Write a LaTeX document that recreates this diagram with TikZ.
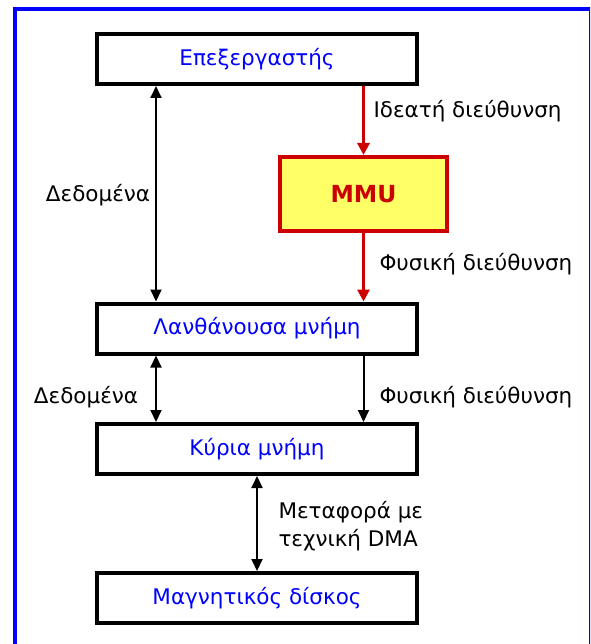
\documentclass[tikz,border=0pt]{standalone}
\usepackage{fontspec}
\setmainfont{DejaVu Sans}
\usetikzlibrary{arrows.meta,positioning}
\definecolor{unitblue}{HTML}{0000FF}
\definecolor{mmured}{HTML}{CC0000}
\definecolor{mmuyellow}{HTML}{FFFF66}

\begin{document}
\begin{tikzpicture}[x=1pt, y=-1pt, font=\fontsize{21.5}{28}\selectfont,
  >={Triangle[length=12pt,width=11pt]},
  unit/.style={draw, line width=4pt, fill=white, text=unitblue, minimum width=320pt, minimum height=50pt},
  link/.style={line width=2pt},
  redlink/.style={line width=3pt, draw=mmured, -{Triangle[length=12pt,width=12pt]}, color=mmured}]
  \clip (0,0) rectangle (590,644);
  % outer frame
  \draw[line width=4pt, unitblue] (15,9) rectangle (590.5,700);

  \node[unit] (cpu) at (257,59) {Επεξεργαστής};
  \node[draw=mmured, line width=4pt, fill=mmuyellow, text=mmured, font=\fontsize{23.5}{28}\selectfont\bfseries,
        minimum width=167pt, minimum height=74pt] (mmu) at (363.5,194) {MMU};
  \node[unit] (cache) at (257,328.5) {Λανθάνουσα μνήμη};
  \node[unit] (ram) at (257,449) {Κύρια μνήμη};
  \node[unit] (disk) at (257,598) {Μαγνητικός δίσκος};

  \draw[redlink] (cpu.south -| mmu.north) -- (mmu.north);
  \draw[redlink] (mmu.south) -- (cache.north -| mmu.south);
  \draw[link, <->] ([xshift=-101pt]cpu.south) -- ([xshift=-101pt]cache.north);
  \draw[link, <->] ([xshift=-101pt]cache.south) -- ([xshift=-101pt]ram.north);
  \draw[link, ->] (cache.south -| mmu.south) -- (ram.north -| mmu.south);
  \draw[link, <->] (ram.south) -- (disk.north);

  \node[anchor=west] (virt) at (370,111) {Ιδεατή διεύθυνση};
  \node (data1) at (98,195) {Δεδομένα};
  \node[anchor=west] (phys1) at (376,264) {Φυσική διεύθυνση};
  \node (data2) at (86,397) {Δεδομένα};
  \node[anchor=west] (phys2) at (376,397) {Φυσική διεύθυνση};
  \node[anchor=west, align=left] (dma) at (275,526) {Μεταφορά με\\τεχνική DMA};
\end{tikzpicture}
\end{document}
